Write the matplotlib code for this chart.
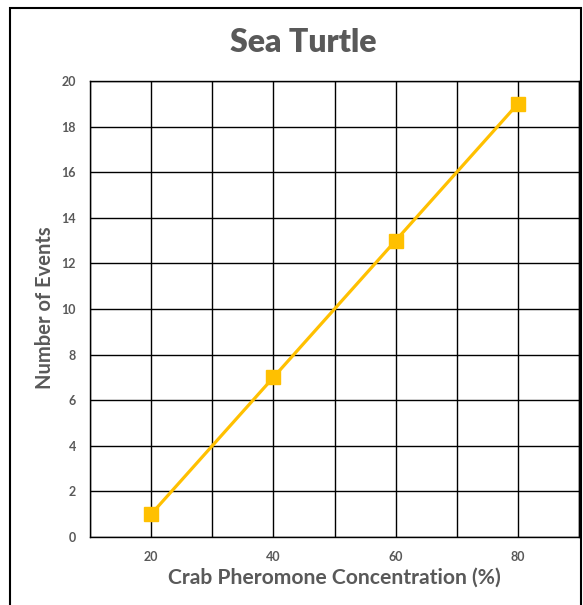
import matplotlib
matplotlib.use("Agg")
import matplotlib.pyplot as plt
from matplotlib.patches import Rectangle

concentration = [20, 40, 60, 80]
events = [1, 7, 13, 19]
x_ticks = [20, 40, 60, 80]
y_ticks = list(range(0, 21, 2))

W, H = 583, 605
fig = plt.figure(figsize=(W / 100, H / 100), dpi=100)
plt.rcParams['font.family'] = ['Lato', 'DejaVu Sans']
gray = '#595959'

# outer chart frame
fig.add_artist(Rectangle((10 / W, -0.05), (581 - 10) / W, 1.05 - 8 / H,
                         transform=fig.transFigure, fill=False,
                         edgecolor='black', linewidth=1.5))

ax = fig.add_axes([90 / W, 1 - 537 / H, (579 - 90) / W, (537 - 81) / H])
ax.set_xlim(10, 90)
ax.set_ylim(0, 20)
ax.set_xticks(range(10, 91, 10))
ax.set_yticks(y_ticks)
ax.grid(True, color='black', linewidth=1.0)
ax.set_axisbelow(True)
for s in ax.spines.values():
    s.set_color('black')
    s.set_linewidth(1.0)
ax.tick_params(length=0, labelsize=9, labelcolor=gray, pad=10)
ax.set_xticklabels([str(v) if v in x_ticks else '' for v in range(10, 91, 10)],
                   fontweight='bold')
ax.set_yticklabels([str(v) for v in y_ticks], fontweight='bold')

ax.plot(concentration, events, color='#FFC000', linewidth=2.3,
        marker='s', markersize=10, clip_on=False, zorder=3)

fig.text(303 / W, 1 - 43 / H, 'Sea Turtle', ha='center', va='center',
         fontsize=23, fontweight='heavy', color=gray)
fig.text(334 / W, 1 - 578 / H, 'Crab Pheromone Concentration (%)',
         ha='center', va='center', fontsize=15.2, fontweight='bold', color=gray)
fig.text(45.5 / W, 1 - 308 / H, 'Number of Events', ha='center', va='center',
         rotation=90, fontsize=14.5, fontweight='bold', color=gray)

fig.savefig('out.png', dpi=100)
